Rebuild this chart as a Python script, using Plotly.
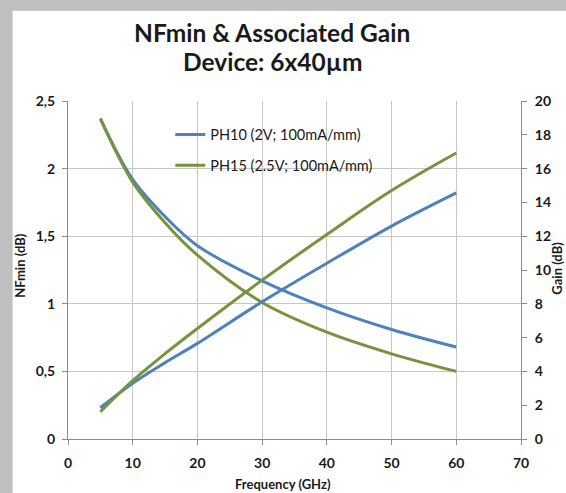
import plotly.graph_objects as go

# ---- data ----
freq_ghz = [5, 10, 15, 20, 30, 40, 50, 60]
nf_ph10 = [2.37, 1.92, 1.645, 1.43, 1.17, 0.97, 0.81, 0.68]
nf_ph15 = [2.37, 1.90, 1.60, 1.36, 1.01, 0.79, 0.63, 0.50]
gain_ph10 = [1.85, 3.30, 4.52, 5.66, 8.12, 10.4, 12.6, 14.56]
gain_ph15 = [1.61, 3.45, 5.05, 6.54, 9.4, 12.1, 14.7, 16.92]
series_names = ["PH10 (2V; 100mA/mm)", "PH15 (2.5V; 100mA/mm)"]
title_lines = ["NFmin & Associated Gain", "Device: 6x40µm"]
x_title = "Frequency (GHz)"
y_title = "NFmin (dB)"
y2_title = "Gain (dB)"

BLUE = "#4F81BD"
GREEN = "#77933C"
GRID = "#C6C6C6"
AXIS = "#8C8C8C"
BORDER = "#BFBFBF"
FONT = "Lato"

W, H = 566, 493
L, R, T, B = 67.5, 44.5, 100.5, 54
pw, ph = W - L - R, H - T - B


def px(x):
    return (x - L) / pw


def py(y):
    return (H - B - y) / ph


fig = go.Figure()
fig.add_trace(go.Scatter(x=freq_ghz, y=nf_ph10, name=series_names[0], mode="lines",
                         line=dict(color=BLUE, width=3, shape="spline"), legendgroup="a"))
fig.add_trace(go.Scatter(x=freq_ghz, y=nf_ph15, name=series_names[1], mode="lines",
                         line=dict(color=GREEN, width=3, shape="spline"), legendgroup="b"))
fig.add_trace(go.Scatter(x=freq_ghz, y=gain_ph10, name=series_names[0], mode="lines",
                         line=dict(color=BLUE, width=3, shape="spline"), yaxis="y2",
                         showlegend=False, legendgroup="a"))
fig.add_trace(go.Scatter(x=freq_ghz, y=gain_ph15, name=series_names[1], mode="lines",
                         line=dict(color=GREEN, width=3, shape="spline"), yaxis="y2",
                         showlegend=False, legendgroup="b"))

tickfont = dict(family=FONT, size=14, color="#1a1a1a", weight="bold")

fig.update_layout(
    width=W, height=H,
    margin=dict(l=L, r=R, t=T, b=B, autoexpand=False),
    paper_bgcolor="white",
    plot_bgcolor="rgba(0,0,0,0)",
    separators=",.",
    font=dict(family=FONT, color="#1a1a1a"),
    showlegend=True,
    legend=dict(x=px(170), y=py(118), xanchor="left", yanchor="top",
                bgcolor="rgba(255,255,255,0)", font=dict(family=FONT, size=14.5, color="#1a1a1a"),
                tracegroupgap=9, itemwidth=30),
    xaxis=dict(range=[0, 70], dtick=10, tick0=0, showgrid=True, gridcolor=GRID, gridwidth=1,
               showline=True, linecolor=AXIS, linewidth=1, ticks="outside", ticklen=5,
               tickcolor=AXIS, tickfont=tickfont, ticklabelstandoff=6, zeroline=False),
    yaxis=dict(range=[0, 2.5], dtick=0.5, tick0=0, showgrid=True, gridcolor=GRID, gridwidth=1,
               showline=True, linecolor=AXIS, linewidth=1, ticks="outside", ticklen=5,
               tickcolor=AXIS, tickfont=tickfont, ticklabelstandoff=4, zeroline=False),
    yaxis2=dict(range=[0, 20], dtick=2, tick0=0, overlaying="y", side="right", showgrid=False,
                showline=True, linecolor=AXIS, linewidth=1, ticks="outside", ticklen=5,
                tickcolor=AXIS, tickfont=tickfont, ticklabelstandoff=5, zeroline=False),
    shapes=[
        dict(type="rect", xref="paper", yref="paper", layer="below",
             x0=px(-5), x1=px(W + 5), y0=py(10), y1=py(-5),
             fillcolor=BORDER, line=dict(width=0)),
        dict(type="rect", xref="paper", yref="paper", layer="below",
             x0=px(-5), x1=px(12), y0=py(H + 5), y1=py(-5),
             fillcolor=BORDER, line=dict(width=0)),
    ],
)

ann = [
    dict(text=title_lines[0], x=px(271.5), y=py(32), font=dict(size=24.5, weight="bold")),
    dict(text=title_lines[1], x=px(272), y=py(61), font=dict(size=24.5, weight="bold")),
    dict(text=x_title, x=px(283), y=py(484), font=dict(size=13, weight="bold")),
    dict(text=y_title, x=px(20), y=py(265), font=dict(size=13, weight="bold"), textangle=-90),
    dict(text=y2_title, x=px(558), y=py(268), font=dict(size=13, weight="bold"), textangle=-90),
]
for a in ann:
    a.update(xref="paper", yref="paper", showarrow=False, xanchor="center", yanchor="middle")
    a["font"].update(family=FONT, color="#1a1a1a")
fig.update_layout(annotations=ann)

fig.write_html("out.html",
               config={"displayModeBar": False},
               post_script="document.body.style.margin='0';document.body.style.overflow='hidden';")
